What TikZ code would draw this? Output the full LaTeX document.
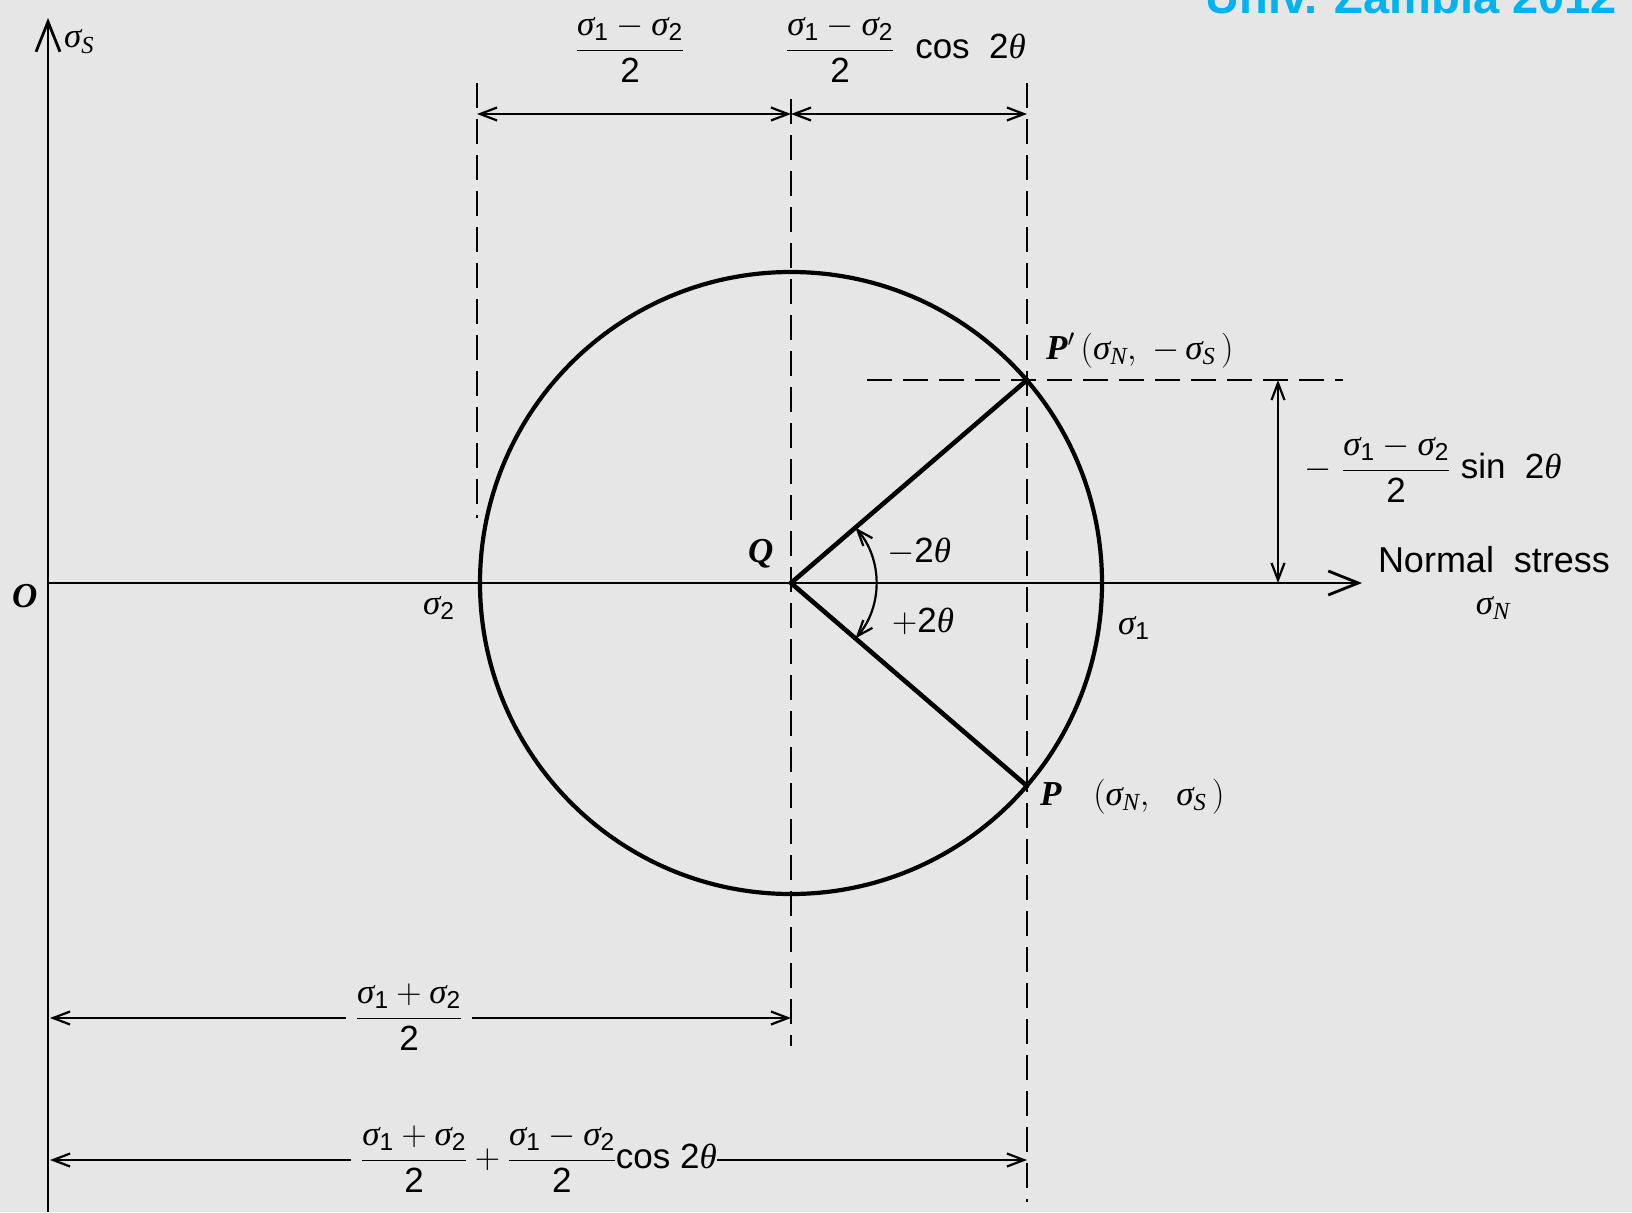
\RequirePackage{fix-cm}
\documentclass[tikz,border=0pt]{standalone}
\usepackage{amsmath}
\usepackage{fontspec}
\setsansfont{Liberation Sans}
\newfontfamily\tms{Liberation Serif}
\usetikzlibrary{arrows.meta}
\definecolor{bgc}{RGB}{230,230,230}
\definecolor{wmc}{RGB}{0,178,240}
\newcommand\Sf[1]{\text{\sffamily #1}}
\newcommand\It[1]{\text{\tms\itshape #1}}
\newcommand\BI[1]{{\tms\bfseries\itshape #1}}
\newcommand\sg{\It{σ}}
\newcommand\tht{\It{θ}}
\tikzset{
  axisline/.style={line width=2.8pt,-{Straight Barb[length=30pt,width=24pt]}},
  dimline/.style={line width=2.2pt,{Straight Barb[length=17pt,width=13pt]}-{Straight Barb[length=17pt,width=13pt]}},
  guide/.style={line width=2.4pt,dash pattern=on 25pt off 11pt},
  circ/.style={line width=4.2pt},
  radline/.style={line width=4.6pt,line cap=round},
  anglearc/.style={line width=2.2pt,{Straight Barb[length=16pt,width=12pt]}-{Straight Barb[length=16pt,width=12pt]}},
  lab/.style={font=\fontsize{35}{42}\selectfont,inner sep=0pt},
  cut/.style={lab,fill=bgc,inner xsep=10pt,inner ysep=0pt},
  wmark/.style={font=\fontsize{47}{50}\selectfont\sffamily\bfseries,text=wmc,inner sep=0pt}
}
\begin{document}
\begin{tikzpicture}[x=1pt,y=-1pt]
\fill[bgc] (0,0) rectangle (1632,1212);
\useasboundingbox (0,0) rectangle (1632,1212);
% key points
\coordinate (ytop) at (48,18);
\coordinate (ybot) at (48,1212);
\coordinate (O) at (48,583);
\coordinate (xend) at (1362,583);
\coordinate (Q) at (791,583);
\coordinate (Pp) at (1027,380);
\coordinate (P) at (1027,786);
\coordinate (arcA) at (855.4,527.6);
% guide lines
\coordinate (g1t) at (477,83);  \coordinate (g1b) at (477,518);
\coordinate (g2t) at (791,99);  \coordinate (g2b) at (791,1046);
\coordinate (g3t) at (1027,83); \coordinate (g3b) at (1027,1202);
\coordinate (h1) at (867,380);  \coordinate (h2) at (1343,380);
\draw[guide] (g1t) -- (g1b);
\draw[guide] (g2t) -- (g2b);
\draw[guide] (g3t) -- (g3b);
\draw[guide] (h1) -- (h2);
% axes
\draw[axisline] (ybot) -- (ytop);
\draw[axisline] (O) -- (xend);
% circle and radii
\draw[circ] (Q) circle[radius=311];
\draw[radline] (Pp) -- (Q) -- (P);
\draw[anglearc] (arcA) arc[start angle=-40.7,end angle=40.7,radius=85];
% dimension lines
\coordinate (d1a) at (477,114); \coordinate (d1b) at (791,114); \coordinate (d1c) at (1027,114);
\draw[dimline] (d1a) -- (d1b);
\draw[dimline] (d1b) -- (d1c);
\coordinate (v1) at (1278,380); \coordinate (v2) at (1278,583);
\draw[dimline] (v1) -- (v2);
\coordinate (b1a) at (50,1018); \coordinate (b1b) at (791,1018);
\coordinate (b2a) at (50,1160); \coordinate (b2b) at (1027,1160);
\draw[dimline] (b1a) -- (b1b);
\draw[dimline] (b2a) -- (b2b);
% labels
\node[lab,anchor=base west] (sS) at (64,48) {$\sg_{\It{S}}$};
\node[lab,anchor=base west] (Olab) at (12,607) {\BI{O}};
\node[lab,anchor=base west] (s2) at (423,614) {$\sg_{\Sf{2}}$};
\node[lab,anchor=base west] (s1) at (1118,634) {$\sg_{\Sf{1}}$};
\node[lab,anchor=base west] (Qlab) at (748,562) {\BI{Q}};
\node[lab,anchor=base west] (m2t) at (887,562) {$-\Sf{2}\tht$};
\node[lab,anchor=base west] (p2t) at (892,632) {$+\Sf{2}\tht$};
\node[lab,anchor=base west] (Pplab) at (1046,359) {\BI{P}$'\,(\sg_{\It{N}},\;-\,\sg_{\It{S}}\,)$};
\node[lab,anchor=base west] (Plab) at (1040,805) {\BI{P}\ \ \ $(\sg_{\It{N}},\ \ \sg_{\It{S}}\,)$};
\node[lab,anchor=base,font=\fontsize{36}{42}\selectfont\sffamily] (ns) at (1494,572) {Normal\ \ stress};
\node[lab,anchor=base] (sN) at (1493,614) {$\sg_{\It{N}}$};
\node[lab,anchor=base] (t1) at (630,58.75) {$\dfrac{\sg_{\Sf{1}}-\sg_{\Sf{2}}}{\Sf{2}}$};
\node[lab,anchor=base] (t2) at (906,58.75) {$\dfrac{\sg_{\Sf{1}}-\sg_{\Sf{2}}}{\Sf{2}}$\ \ {\sffamily cos\ \ 2}\tht};
\node[lab,anchor=base] (r1) at (1433,478.75) {$-\ \dfrac{\sg_{\Sf{1}}-\sg_{\Sf{2}}}{\Sf{2}}$\ {\sffamily sin\ \ 2}\tht};
\node[cut,anchor=base] (bl1) at (409,1026.75) {$\dfrac{\sg_{\Sf{1}}+\sg_{\Sf{2}}}{\Sf{2}}$};
\node[cut,anchor=base] (bl2) at (534,1168.75) {$\dfrac{\sg_{\Sf{1}}+\sg_{\Sf{2}}}{\Sf{2}}+\dfrac{\sg_{\Sf{1}}-\sg_{\Sf{2}}}{\Sf{2}}${\sffamily cos\ 2}\tht\hspace*{-10pt}};
% watermark
\node[wmark,anchor=base east] (wm) at (1617,14) {Univ. Zambia 2012};
\end{tikzpicture}
\end{document}
